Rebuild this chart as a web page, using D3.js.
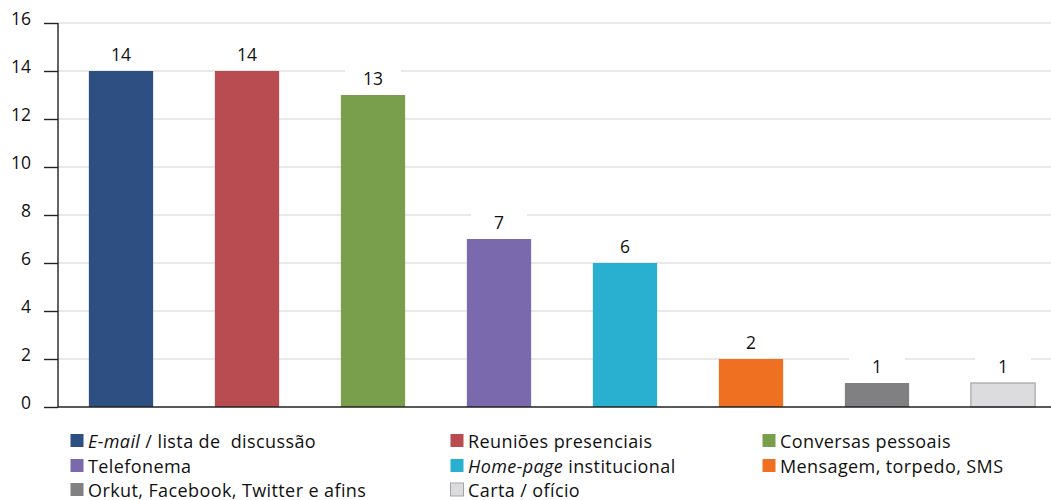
<!DOCTYPE html>
<html><head><meta charset="utf-8">
<script src="https://cdn.jsdelivr.net/npm/d3@7"></script>
<style>body{margin:0;background:#fff}svg{display:block}text{white-space:pre}</style>
</head><body>
<svg id="c" width="1051" height="500"></svg>
<script>
const categories = ["E-mail / lista de  discussão","Reuniões presenciais","Conversas pessoais","Telefonema","Home-page institucional","Mensagem, torpedo, SMS","Orkut, Facebook, Twitter e afins","Carta / ofício"];
const values = [14,14,13,7,6,2,1,1];
const colors = ["#2d4f82","#b84c50","#7a9f4c","#7a69ad","#29afcf","#f07022","#808083","#dcdcde"];
const yTicks = [0,2,4,6,8,10,12,14,16];
// legend label parts: [italic part, regular part]
const legendParts = [["E-mail"," / lista de  discussão"],["","Reuniões presenciais"],["","Conversas pessoais"],["","Telefonema"],["Home-page"," institucional"],["","Mensagem, torpedo, SMS"],["","Orkut, Facebook, Twitter e afins"],["","Carta / ofício"]];

const font = "'Open Sans', 'Noto Sans', sans-serif";
const svg = d3.select("#c");
const x0 = 58, yTop = 23, yBot = 407;
const x = d3.scaleBand().domain(categories).range([x0, 1066]).paddingInner(0.49).paddingOuter(0.245);
const y = d3.scaleLinear().domain([0,16]).range([yBot, yTop]);

// gridlines
svg.append("g").selectAll("line").data(yTicks.filter(d=>d>0)).join("line")
  .attr("x1", x0).attr("x2", 1051).attr("y1", d=>y(d)).attr("y2", d=>y(d))
  .attr("stroke", "#d4d4d4").attr("stroke-width", 1.2);

// axis
const ax = svg.append("g").attr("transform", `translate(${x0},0)`)
  .call(d3.axisLeft(y).tickValues(yTicks).tickSize(14).tickPadding(13).tickFormat(d3.format("d")));
ax.select(".domain").remove();
ax.selectAll(".tick line").attr("stroke", "#222").attr("stroke-width", 1.4);
ax.selectAll(".tick text").attr("font-family", font).attr("font-size", 17.5).attr("fill", "#111").attr("dy", "0.1em");
svg.append("line").attr("x1", x0).attr("x2", x0).attr("y1", yTop).attr("y2", yBot).attr("stroke", "#222").attr("stroke-width", 1.4);

// bars
svg.append("g").selectAll("rect").data(values).join("rect")
  .attr("x", (d,i)=>x(categories[i])).attr("width", x.bandwidth())
  .attr("y", d=>y(d)).attr("height", d=>yBot - y(d))
  .attr("fill", (d,i)=>colors[i])
  .attr("stroke", (d,i)=> i===7 ? "#a5a5a7" : "none").attr("stroke-width", 1.2);

// baseline
svg.append("line").attr("x1", x0).attr("x2", 1051).attr("y1", yBot).attr("y2", yBot).attr("stroke", "#222").attr("stroke-width", 1.6);

// value labels with white backgrounds
const lab = svg.append("g").selectAll("g").data(values).join("g")
  .attr("transform", (d,i)=>`translate(${x(categories[i]) + x.bandwidth()/2},${y(d) - 10})`);
lab.append("rect").attr("x", -28).attr("y", -17).attr("width", 56).attr("height", 21).attr("fill", "#fff");
lab.append("text").attr("text-anchor", "middle").attr("font-family", font).attr("font-size", 17.5).attr("fill", "#111")
  .text(d=>d);

// legend
const legX = [70, 450, 762], legY = [441, 466, 490];
const leg = svg.append("g").selectAll("g").data(legendParts).join("g")
  .attr("transform", (d,i)=>`translate(${legX[i%3]},${legY[Math.floor(i/3)]})`);
leg.append("rect").attr("x", 0.5).attr("y", -7).attr("width", 13).attr("height", 13)
  .attr("fill", (d,i)=>colors[i]).attr("stroke", (d,i)=> i===7 ? "#a5a5a7" : "none");
const lt = leg.append("text").attr("x", 18).attr("y", 6.5).attr("font-family", font).attr("font-size", 18)
  .attr("letter-spacing", 0.4).attr("fill", "#111");
lt.append("tspan").attr("font-style", "italic").text(d=>d[0]);
lt.append("tspan").text(d=>d[1]);
</script>
</body></html>
